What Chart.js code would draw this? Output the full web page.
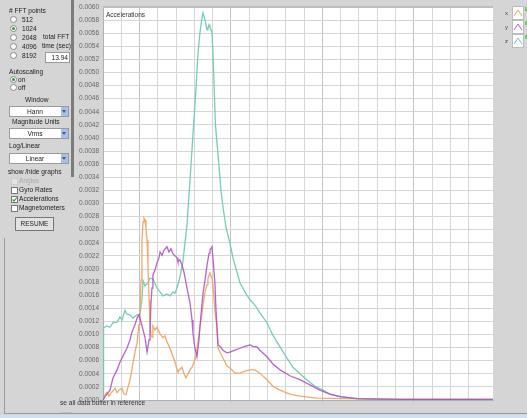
<!DOCTYPE html>
<html>
<head>
<meta charset="utf-8">
<script src="https://cdn.jsdelivr.net/npm/chart.js@4"></script>
<style>
body{margin:0;background:#d5d5d5;width:527px;height:418px;overflow:hidden;position:relative;
  font-family:'Liberation Sans',Arial,sans-serif;font-size:6.6px;color:#222;filter:blur(0.3px)}
#c{position:absolute;left:0;top:0}
.t{position:absolute;white-space:nowrap;line-height:8px}
.rad{position:absolute;left:10px;width:5px;height:5px;border:1px solid #888;border-radius:50%;background:#fff}
.rad.on::after{content:'';position:absolute;left:1px;top:1px;width:3px;height:3px;border-radius:50%;background:#2c9c3c}
.chk{position:absolute;left:11px;width:5px;height:5px;border:1px solid #777;background:#fff}
.dd{position:absolute;left:9px;width:58px;height:9px;border:1px solid #9a9a9a;background:#fff;line-height:9px}
.dd span{position:absolute;left:0;right:8px;text-align:center}
.dd i{position:absolute;right:0;top:0;width:7px;height:9px;background:#a9bfe6}
.dd i::after{content:'';position:absolute;left:1px;top:3px;border-left:2.5px solid transparent;border-right:2.5px solid transparent;border-top:3px solid #3a5a9a}
.lg{position:absolute;left:512px;width:10px;height:12px;border:1px solid #bbb;background:#fff}
.lt{position:absolute;left:505px;font-size:6px;color:#444}
.gm{position:absolute;left:525px;width:2px;height:4px;background:#6c6}
</style>
</head>
<body>
<canvas id="c" width="527" height="418"></canvas>

<!-- left control panel -->
<div class="t" style="left:9px;top:7px"># FFT points</div>
<div class="rad" style="top:16px"></div><div class="t" style="left:22px;top:16px">512</div>
<div class="rad on" style="top:25px"></div><div class="t" style="left:22px;top:25px">1024</div>
<div class="rad" style="top:34px"></div><div class="t" style="left:22px;top:34px">2048</div>
<div class="rad" style="top:43px"></div><div class="t" style="left:22px;top:43px">4096</div>
<div class="rad" style="top:52px"></div><div class="t" style="left:22px;top:52px">8192</div>
<div class="t" style="left:43px;top:33px">total FFT</div>
<div class="t" style="left:42px;top:42px">time (sec)</div>
<div style="position:absolute;left:45px;top:52px;width:22px;height:9px;border:1px solid #999;background:#fff;line-height:9px;text-align:right;padding-right:1px">13.94</div>
<div class="t" style="left:9px;top:68px">Autoscaling</div>
<div class="rad on" style="top:76px"></div><div class="t" style="left:18px;top:76px">on</div>
<div class="rad" style="top:84px"></div><div class="t" style="left:18px;top:84px">off</div>
<div class="t" style="left:25px;top:96px">Window</div>
<div class="dd" style="top:106px"><span>Hann</span><i></i></div>
<div class="t" style="left:12px;top:118px">Magnitude Units</div>
<div class="dd" style="top:128px"><span>Vrms</span><i></i></div>
<div class="t" style="left:9px;top:142px">Log/Linear</div>
<div class="dd" style="top:153px"><span>Linear</span><i></i></div>
<div class="t" style="left:8px;top:168px">show /hide graphs</div>
<div class="chk" style="top:178px;border-color:#ccc;background:#e4e4e4"></div><div class="t" style="left:19px;top:177px;color:#aaa">Angles</div>
<div class="chk" style="top:187px"></div><div class="t" style="left:19px;top:186px">Gyro Rates</div>
<div class="chk" style="top:196px"><svg width="5" height="5" style="position:absolute;left:0;top:0"><path d="M0.5 2.5 L2 4 L4.8 0.5" stroke="#2c9c3c" stroke-width="1.2" fill="none"/></svg></div><div class="t" style="left:19px;top:195px">Accelerations</div>
<div class="chk" style="top:205px"></div><div class="t" style="left:19px;top:204px">Magnetometers</div>
<div style="position:absolute;left:15px;top:217px;width:37px;height:12px;border:1px solid #777;background:#e2e2e2;line-height:12px;text-align:center;font-size:6.5px">RESUME</div>
<div style="position:absolute;left:71px;top:0;width:3px;height:177px;background:#7c7c7c"></div>

<!-- plot caption and legend -->
<div class="t" style="left:106px;top:11px;font-size:6.5px;color:#333">Accelerations</div>
<div class="lt" style="top:10px">x</div>
<div class="lt" style="top:24px">y</div>
<div class="lt" style="top:38px">z</div>
<div class="lg" style="top:6px"><svg width="10" height="12"><path d="M1 9 L5 3 L9 9" stroke="#f3a15e" fill="none"/></svg></div>
<div class="lg" style="top:20px"><svg width="10" height="12"><path d="M1 9 L5 3 L9 9" stroke="#b65ac6" fill="none"/></svg></div>
<div class="lg" style="top:34px"><svg width="10" height="12"><path d="M1 9 L5 3 L9 9" stroke="#6fc6b4" fill="none"/></svg></div>
<div class="gm" style="top:7px"></div><div class="gm" style="top:21px"></div><div class="gm" style="top:35px"></div>

<!-- bottom strip -->
<div class="t" style="left:60px;top:399px;font-size:6.6px;color:#333">se all data buffer in reference</div>
<div class="t" style="left:60px;top:408px;font-size:5px;color:#aaa">~~~~</div>
<div style="position:absolute;left:4px;top:238px;width:1px;height:176px;background:#9a9a9a"></div>
<div style="position:absolute;left:4px;top:413px;width:523px;height:1px;background:#9a9a9a"></div>
<div style="position:absolute;left:0;top:415px;width:527px;height:3px;background:#cfe0f2"></div>

<script>
// frequency positions in grid units, magnitudes in Vrms
const xFreq = [0,0.11,0.22,0.33,0.44,0.55,0.66,0.77,0.87,1.04, 1.15,1.26,1.37,1.48,1.64,1.75,1.86,1.97,2.02,2.08,
  2.13,2.19,2.24,2.30,2.35,2.41,2.46,2.52,2.57,2.62, 2.68,2.73,2.84,2.95,3.12,3.28,3.39,3.50,3.66,3.83,
  3.94,4.05,4.10,4.21,4.32,4.43,4.54,4.65,4.76,4.87, 5.03,5.14,5.30,5.47,5.58,5.69,5.74,5.85,5.96,6.01,
  6.12,6.23,6.29,6.40,6.56,6.78,6.94,7.22,7.49,7.76, 8.04,8.31,8.42,8.58,8.97,9.29,9.68,10.22,10.77,11.70,
  12.96,16.24,21.32];
const xMag = [0.00005,0.00008,0.00012,0.00006,0.00011,0.00014,0.00018,0.00011,0.00015,0.00018,
  0.00009,0.00008,0.0002,0.00031,0.00056,0.00073,0.00087,0.00115,0.00137,0.00183,
  0.00244,0.00272,0.00278,0.00275,0.00263,0.00244,0.00206,0.00153,0.00115,0.00099,
  0.00096,0.00113,0.00107,0.00111,0.00101,0.00095,0.00098,0.00089,0.00079,0.00066,
  0.00058,0.00046,0.00043,0.00047,0.0005,0.0004,0.00034,0.0004,0.00046,0.0005,
  0.00061,0.00076,0.00111,0.00145,0.00165,0.00176,0.00186,0.00194,0.00186,0.00176,
  0.00137,0.00111,0.00079,0.00073,0.00064,0.00052,0.00049,0.00041,0.00041,0.00044,
  0.00046,0.00046,0.00044,0.00041,0.00031,0.00021,0.00015,0.00009,0.00006,0.00003,
  0.00002,0.00001,0.00001];

const yFreq = [0,0.11,0.27,0.38,0.55,0.77,0.93,1.09,1.31,1.48, 1.59,1.75,1.86,1.97,2.08,2.19,2.30,2.41,2.52,2.57,
  2.62,2.68,2.73,2.84,2.95,3.06,3.12,3.23,3.34,3.44, 3.50,3.61,3.72,3.83,3.94,4.05,4.10,4.21,4.32,4.43,
  4.48,4.59,4.76,4.87,4.92,5.03,5.14,5.25,5.30,5.41, 5.47,5.58,5.69,5.80,5.85,5.96,6.01,6.12,6.18,6.29,
  6.40,6.56,6.78,6.94,7.22,7.49,7.76,8.04,8.20,8.42, 8.58,8.97,9.29,9.68,10.22,10.77,11.32,11.86,12.41,12.96,
  13.89,16.24,21.32];
const yMag = [0,0.00005,0.00011,0.00015,0.00034,0.00046,0.00058,0.00067,0.00079,0.00092,
  0.00104,0.00115,0.00125,0.0013,0.00119,0.00107,0.00095,0.00073,0.00092,0.00107,
  0.00145,0.00171,0.00191,0.00198,0.00209,0.00217,0.00226,0.00221,0.00229,0.00232,
  0.00234,0.00226,0.00231,0.00223,0.0022,0.00217,0.00211,0.00214,0.00206,0.00195,
  0.00188,0.00171,0.00148,0.00122,0.00102,0.00079,0.00066,0.00092,0.00111,0.00145,
  0.00163,0.00183,0.00206,0.00224,0.00229,0.00234,0.00217,0.00179,0.00137,0.00084,
  0.00082,0.00076,0.00072,0.00073,0.00076,0.00079,0.00082,0.00084,0.00082,0.00081,
  0.00076,0.00066,0.00055,0.00046,0.00037,0.00031,0.00023,0.00015,0.00009,0.00005,
  0.00002,0.00001,0.00001];

const zFreq = [0,0.03,0.22,0.38,0.55,0.77,0.93,1.04,1.20,1.31, 1.48,1.64,1.86,2.02,2.13,2.19,2.30,2.46,2.57,2.73,
  2.95,3.12,3.28,3.50,3.66,3.83,3.94,4.10,4.21,4.37, 4.59,4.76,4.92,5.08,5.19,5.30,5.41,5.47,5.58,5.69,
  5.74,5.80,5.85,5.96,6.01,6.07,6.15,6.23,6.34,6.45, 6.56,6.73,6.94,7.11,7.33,7.49,7.76,8.04,8.31,8.58,
  8.97,9.29,9.68,10.06,10.39,10.77,11.15,11.59,12.03,12.41, 12.96,13.89,14.87,16.24,21.32];
const zMag = [0,0.0011,0.00113,0.00111,0.00118,0.00119,0.00127,0.00122,0.00137,0.00131,
  0.0013,0.00125,0.0013,0.00131,0.00153,0.00182,0.00174,0.00179,0.00186,0.00185,
  0.00171,0.00165,0.00159,0.00162,0.00159,0.00165,0.00163,0.00176,0.00188,0.00211,
  0.00267,0.00336,0.00405,0.00473,0.00527,0.0056,0.00583,0.00591,0.0058,0.00565,
  0.00568,0.00573,0.00569,0.00562,0.00534,0.00484,0.0042,0.00394,0.00359,0.00321,
  0.00295,0.00263,0.0024,0.00217,0.00195,0.00179,0.00165,0.00153,0.00145,0.00133,
  0.00118,0.00099,0.00081,0.00064,0.0005,0.0004,0.00031,0.00021,0.00015,0.00009,
  0.00005,0.00002,0.00001,0.00001,0.00001];

const majorLines = [2, 7, 12, 17];

function pts(xs, ys) {
  return xs.map((x, i) => ({x: x, y: ys[i]}));
}

const plotBg = {
  id: 'plotBg',
  beforeDraw(c) {
    const a = c.chartArea, g = c.ctx;
    g.save();
    g.fillStyle = '#fff';
    g.fillRect(a.left, a.top, a.right - a.left, a.bottom - a.top);
    g.restore();
  },
  afterDraw(c) {
    const a = c.chartArea, g = c.ctx;
    g.save();
    g.strokeStyle = '#bdbdbd';
    g.lineWidth = 2;
    g.beginPath();
    g.moveTo(a.left, a.top);
    g.lineTo(a.right, a.top);
    g.stroke();
    g.restore();
  }
};

const line = (label, data, color, order) => ({
  label, data, borderColor: color, borderWidth: 1.3, pointRadius: 0, tension: 0, fill: false, order
});

new Chart(document.getElementById('c'), {
  type: 'line',
  data: {
    datasets: [
      line('x', pts(xFreq, xMag), 'rgba(243,158,90,0.9)', 2),
      line('y', pts(yFreq, yMag), 'rgba(172,74,192,0.85)', 1),
      line('z', pts(zFreq, zMag), 'rgba(112,200,182,0.95)', 3)
    ]
  },
  options: {
    responsive: false,
    animation: false,
    layout: {padding: {left: 73, top: 7, right: 34, bottom: 14}},
    plugins: {legend: {display: false}, tooltip: {enabled: false}},
    scales: {
      x: {
        type: 'linear', min: 0, max: 21.33,
        ticks: {display: false, stepSize: 1},
        grid: {
          color: c => (c.tick && majorLines.includes(Math.round(c.tick.value)) && Math.abs(c.tick.value - Math.round(c.tick.value)) < 0.01) ? '#c2c2c2' : '#d6d6d6',
          tickLength: 3
        },
        border: {color: '#b0b0b0'},
        afterFit(s) { s.height = 4; }
      },
      y: {
        min: 0, max: 0.006,
        ticks: {
          stepSize: 0.0002, autoSkip: false, padding: 1, color: '#666',
          font: {family: 'Liberation Sans', size: 6.5},
          callback: v => v.toFixed(4)
        },
        grid: {color: '#d6d6d6', tickLength: 3},
        border: {color: '#b0b0b0'},
        afterFit(s) { s.width = 30; }
      }
    }
  },
  plugins: [plotBg]
});
</script>
</body>
</html>
